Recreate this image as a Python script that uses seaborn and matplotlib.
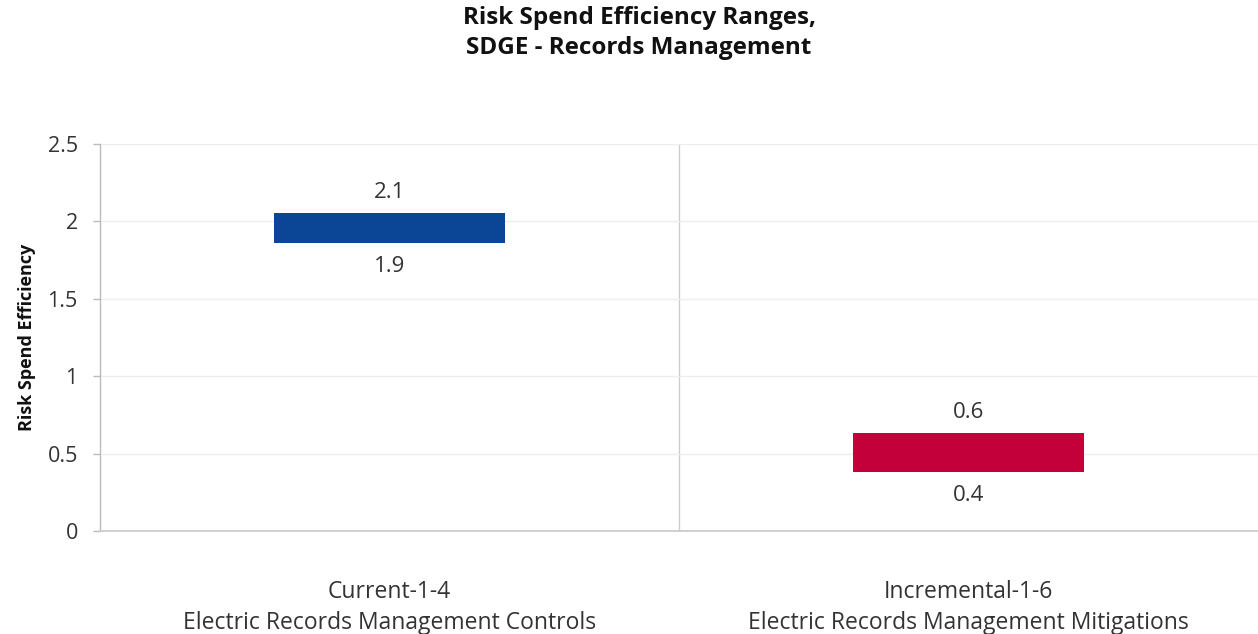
import matplotlib
matplotlib.use("Agg")
import matplotlib.pyplot as plt
import seaborn as sns
import pandas as pd

categories = ["Current-1-4\nElectric Records Management Controls",
              "Incremental-1-6\nElectric Records Management Mitigations"]
low_values = [1.86, 0.38]
high_values = [2.055, 0.636]
low_labels = ["1.9", "0.4"]
high_labels = ["2.1", "0.6"]
colors = ["#0B4596", "#C4003A"]
y_ticks = [0, 0.5, 1, 1.5, 2, 2.5]
y_tick_labels = ["0", "0.5", "1", "1.5", "2", "2.5"]

sns.set_theme(style="white")
plt.rcParams['font.family'] = ['Open Sans', 'DejaVu Sans']

df = pd.DataFrame({"cat": categories,
                   "span": [h - l for h, l in zip(high_values, low_values)]})

fig = plt.figure(figsize=(12.58, 6.34), dpi=100)
ax = fig.add_axes([0.0795, 0.1625, 0.9205, 0.6104])

sns.barplot(data=df, x="cat", y="span", hue="cat", palette=colors,
            width=0.4, legend=False, ax=ax, saturation=1)

for patch, lo, hi in zip(ax.patches, low_values, high_values):
    patch.set_y(lo)
    patch.set_height(hi - lo)
    patch.set_linewidth(0)

for i, (lo, hi, ll, hl) in enumerate(zip(low_values, high_values, low_labels, high_labels)):
    ax.annotate(hl, (i, hi), xytext=(0, 7), textcoords="offset points",
                ha="center", va="bottom", fontsize=16, color="#333333")
    ax.annotate(ll, (i, lo), xytext=(0, -9), textcoords="offset points",
                ha="center", va="top", fontsize=16, color="#333333")

ax.set_xlim(-0.5, 1.5)
ax.set_ylim(0, 2.5)
ax.set_yticks(y_ticks)
ax.set_yticklabels(y_tick_labels, fontsize=15.5, color="#333333")
ax.tick_params(axis="x", labelsize=16.5, labelcolor="#333333", pad=35, length=0)
for lbl in ax.get_xticklabels():
    lbl.set_linespacing(1.42)
ax.tick_params(axis="y", left=True, length=5, color="#BBBBBB", width=1, pad=11)
ax.set_xticks([0.5], minor=True)
ax.grid(axis="y", color="#EEEEEE", linewidth=1)
ax.grid(axis="x", which="minor", color="#CCCCCC", linewidth=1)
ax.grid(axis="x", which="major", visible=False)
ax.set_axisbelow(True)

for s in ["top", "right"]:
    ax.spines[s].set_visible(False)
ax.spines["left"].set_color("#BBBBBB")
ax.spines["bottom"].set_color("#CCCCCC")
ax.spines["left"].set_linewidth(1)
ax.spines["bottom"].set_linewidth(1.3)

ax.set_xlabel("")
ax.set_ylabel("Risk Spend Efficiency", fontsize=13, fontweight="bold",
              color="#111111", labelpad=8)

fig.suptitle("Risk Spend Efficiency Ranges,\nSDGE - Records Management",
             x=0.508, y=0.99, fontsize=17.5, fontweight="bold", color="#111111",
             linespacing=1.32)

fig.savefig("out.png", dpi=100, facecolor="white")
